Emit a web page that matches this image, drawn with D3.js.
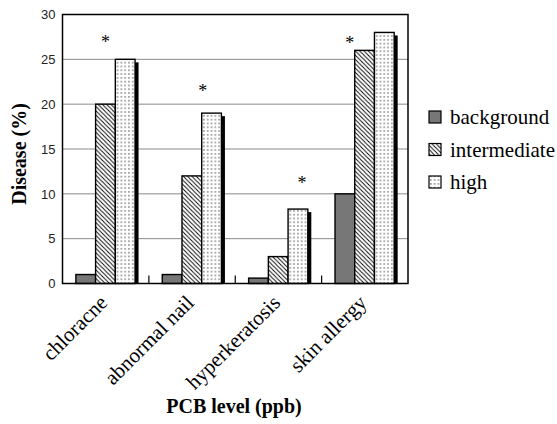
<!DOCTYPE html>
<html>
<head>
<meta charset="UTF-8">
<style>
  body { margin: 0; background: #fff; }
  .tick text { font-family: "Liberation Sans", Arial, sans-serif; font-size: 13px; fill: #222; }
  .serif { font-family: "Liberation Serif", "Times New Roman", serif; fill: #000; }
</style>
</head>
<body>
<script src="https://d3js.org/d3.v7.min.js"></script>
<script>
const categories = ["chloracne", "abnormal nail", "hyperkeratosis", "skin allergy"];
const seriesNames = ["background", "intermediate", "high"];
const background = [1, 1, 0.6, 10];
const intermediate = [20, 12, 3, 26];
const high = [25, 19, 8.3, 28];
const yTicks = [0, 5, 10, 15, 20, 25, 30];
// asterisks: position in bar slots (0..3) and height in %
const starSlot = [1.5, 2.05, 2.7, 0.75];
const starValue = [27.2, 21.7, 11.5, 27.1];

const width = 557, height = 424;
const plotLeft = 62.5, plotRight = 408, plotTop = 14.5, plotBottom = 283.5;

const svg = d3.select("body").append("svg")
  .attr("width", width)
  .attr("height", height);

// patterns for the bar fills
const defs = svg.append("defs");
const hatch = defs.append("pattern")
  .attr("id", "hatch")
  .attr("patternUnits", "userSpaceOnUse")
  .attr("width", 4.3).attr("height", 4.3);
hatch.append("rect").attr("width", 4.3).attr("height", 4.3).attr("fill", "#fff");
hatch.append("path")
  .attr("d", "M0,0L4.3,4.3M-1,3.3L1,5.3M3.3,-1L5.3,1")
  .attr("stroke", "#000").attr("stroke-width", 0.9);

const dots = defs.append("pattern")
  .attr("id", "dots")
  .attr("patternUnits", "userSpaceOnUse")
  .attr("width", 3.8).attr("height", 3.8);
dots.append("rect").attr("width", 3.8).attr("height", 3.8).attr("fill", "#fff");
dots.append("rect").attr("x", 1.3).attr("y", 1.3).attr("width", 1.1).attr("height", 1.1).attr("fill", "#111");

const fills = {background: "#777", intermediate: "url(#hatch)", high: "url(#dots)"};

const x = d3.scaleBand().domain(categories).range([plotLeft, plotRight]);
const y = d3.scaleLinear().domain([0, 30]).range([plotBottom, plotTop]);
const inner = d3.scaleBand().domain(seriesNames)
  .range([x.bandwidth() * 0.155, x.bandwidth() * 0.84]);
const slot = d3.scaleLinear().domain([0, 3]).range(inner.range());

// gridlines
svg.append("g")
  .selectAll("line")
  .data(yTicks.filter(d => d > 0 && d < 30))
  .enter()
  .append("line")
  .attr("x1", plotLeft).attr("x2", plotRight)
  .attr("y1", d => y(d)).attr("y2", d => y(d))
  .attr("stroke", "#8a8a8a").attr("stroke-width", 1);

// bars with drop shadow
const rows = categories.map((c, i) => ({
  cat: c,
  values: [background[i], intermediate[i], high[i]]
}));

const groups = svg.append("g")
  .selectAll("g")
  .data(rows)
  .enter()
  .append("g")
  .attr("transform", d => "translate(" + x(d.cat) + ",0)");

groups.each(function(d) {
  let g = d3.select(this);
  d.values.forEach((v, j) => {
    let s = seriesNames[j];
    g.append("rect")
      .attr("x", inner(s) + 3.5)
      .attr("y", y(v) + 3)
      .attr("width", inner.bandwidth())
      .attr("height", Math.max(0, y(0) - y(v) - 3))
      .attr("fill", "#000");
    g.append("rect")
      .attr("x", inner(s))
      .attr("y", y(v))
      .attr("width", inner.bandwidth())
      .attr("height", y(0) - y(v))
      .attr("fill", fills[s])
      .attr("stroke", "#000")
      .attr("stroke-width", 1.4);
  });
});

// frame
svg.append("rect")
  .attr("x", plotLeft).attr("y", plotTop)
  .attr("width", plotRight - plotLeft).attr("height", plotBottom - plotTop)
  .attr("fill", "none").attr("stroke", "#000").attr("stroke-width", 1.5);

// category separator ticks
svg.append("g")
  .selectAll("line")
  .data(categories.slice(1))
  .enter()
  .append("line")
  .attr("x1", d => x(d)).attr("x2", d => x(d))
  .attr("y1", plotBottom).attr("y2", plotBottom - 8)
  .attr("stroke", "#000").attr("stroke-width", 1.2);

// y axis
let yAxis = svg.append("g")
  .attr("transform", "translate(" + plotLeft + ",0)")
  .call(d3.axisLeft(y).tickValues(yTicks).tickSize(0).tickPadding(7));
yAxis.select(".domain").remove();

// category labels
svg.append("g")
  .selectAll("text")
  .data(categories)
  .enter()
  .append("text")
  .attr("class", "serif")
  .attr("text-anchor", "end")
  .attr("font-size", 21)
  .attr("transform", d => "translate(" + (x(d) + x.bandwidth() / 2 + 3) + ",304) rotate(-45)")
  .text(d => d);

// asterisks
svg.append("g")
  .selectAll("text")
  .data(categories)
  .enter()
  .append("text")
  .attr("class", "serif")
  .attr("text-anchor", "middle")
  .attr("font-size", 18)
  .attr("x", (d, i) => x(d) + slot(starSlot[i]))
  .attr("y", (d, i) => y(starValue[i]))
  .attr("dy", "0.47em")
  .text("*");

// axis titles
svg.append("text")
  .attr("class", "serif")
  .attr("font-weight", "bold")
  .attr("font-size", 20)
  .attr("text-anchor", "middle")
  .attr("transform", "translate(26," + ((plotTop + plotBottom) / 2 + 5) + ") rotate(-90)")
  .text("Disease (%)");

svg.append("text")
  .attr("class", "serif")
  .attr("font-weight", "bold")
  .attr("font-size", 20)
  .attr("text-anchor", "middle")
  .attr("x", 234)
  .attr("y", 413)
  .text("PCB level (ppb)");

// legend
let legend = svg.append("g")
  .selectAll("g")
  .data(seriesNames)
  .enter()
  .append("g")
  .attr("transform", (d, i) => "translate(429," + (117 + i * 32.5) + ")");

legend.append("rect")
  .attr("x", 0).attr("y", -6)
  .attr("width", 12).attr("height", 12)
  .attr("fill", d => fills[d])
  .attr("stroke", "#000").attr("stroke-width", 1.2);

legend.append("text")
  .attr("class", "serif")
  .attr("font-size", 21)
  .attr("x", 21)
  .attr("y", 7)
  .text(d => d);
</script>
</body>
</html>
